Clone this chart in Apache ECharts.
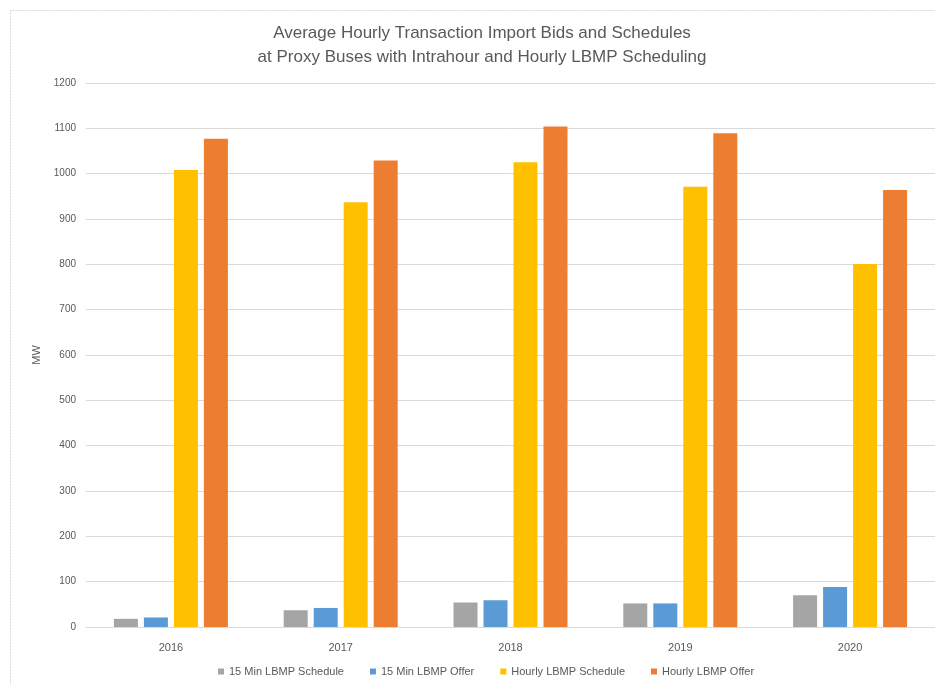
<!DOCTYPE html>
<html lang="en">
<head>
    <meta charset="UTF-8">
    <title>Proxy Bus Import Bids</title>
    <style>
        body { margin: 0; background: #fff; }
    </style>
</head>
<body>
<script src="https://cdn.jsdelivr.net/npm/echarts@6/dist/echarts.min.js"></script>

<div id="main" style="width: 935px;height:685px;"></div>
<script type="text/javascript">

var years = ['2016', '2017', '2018', '2019', '2020'];
var min15Schedule = [18, 37, 54, 52, 70];
var min15Offer = [21, 42, 59, 52, 88];
var hourlySchedule = [1008, 937, 1025, 971, 801];
var hourlyOffer = [1077, 1029, 1104, 1089, 964];

var font = "'Liberation Sans', sans-serif";
var textGray = '#595959';

var myChart = echarts.init(document.getElementById("main"));

function bar(name, data, color) {
    return {
        name: name,
        type: 'bar',
        data: data,
        barWidth: 24,
        barGap: '25%',
        itemStyle: {color: color}
    };
}

myChart.setOption({
    animation: false,
    textStyle: {fontFamily: font},
    graphic: [{
        type: 'rect',
        shape: {x: 10.5, y: 10.5, width: 1000, height: 1000},
        style: {fill: 'none', stroke: '#d9d9d9', lineWidth: 1, lineDash: [2, 1]}
    }],
    title: {
        text: 'Average Hourly Transaction Import Bids and Schedules\nat Proxy Buses with Intrahour and Hourly LBMP Scheduling',
        left: 477,
        textAlign: 'center',
        top: 16,
        textStyle: {fontFamily: font, fontSize: 17, fontWeight: 'normal', color: textGray, lineHeight: 24}
    },
    legend: {
        bottom: 3,
        left: 213,
        itemWidth: 6,
        itemHeight: 6,
        itemGap: 26,
        icon: 'rect',
        textStyle: {fontFamily: font, fontSize: 11, color: textGray}
    },
    grid: {left: 86, right: -1, top: 83, bottom: 58},
    xAxis: {
        type: 'category',
        data: years,
        axisLine: {lineStyle: {color: '#d9d9d9'}},
        axisTick: {show: false},
        axisLabel: {fontFamily: font, fontSize: 11, color: textGray, margin: 15}
    },
    yAxis: {
        type: 'value',
        min: 0,
        max: 1200,
        interval: 100,
        name: 'MW',
        nameLocation: 'middle',
        nameGap: 42,
        nameTextStyle: {fontFamily: font, fontSize: 11, color: textGray},
        axisLabel: {fontFamily: font, fontSize: 10, color: textGray, margin: 10,
            formatter: function (v) { return String(v); }},
        splitLine: {lineStyle: {color: '#d9d9d9'}}
    },
    series: [
        bar('15 Min LBMP Schedule', min15Schedule, '#A5A5A5'),
        bar('15 Min LBMP Offer', min15Offer, '#5B9BD5'),
        bar('Hourly LBMP Schedule', hourlySchedule, '#FFC000'),
        bar('Hourly LBMP Offer', hourlyOffer, '#ED7D31')
    ]
});

</script>
</body>
</html>
